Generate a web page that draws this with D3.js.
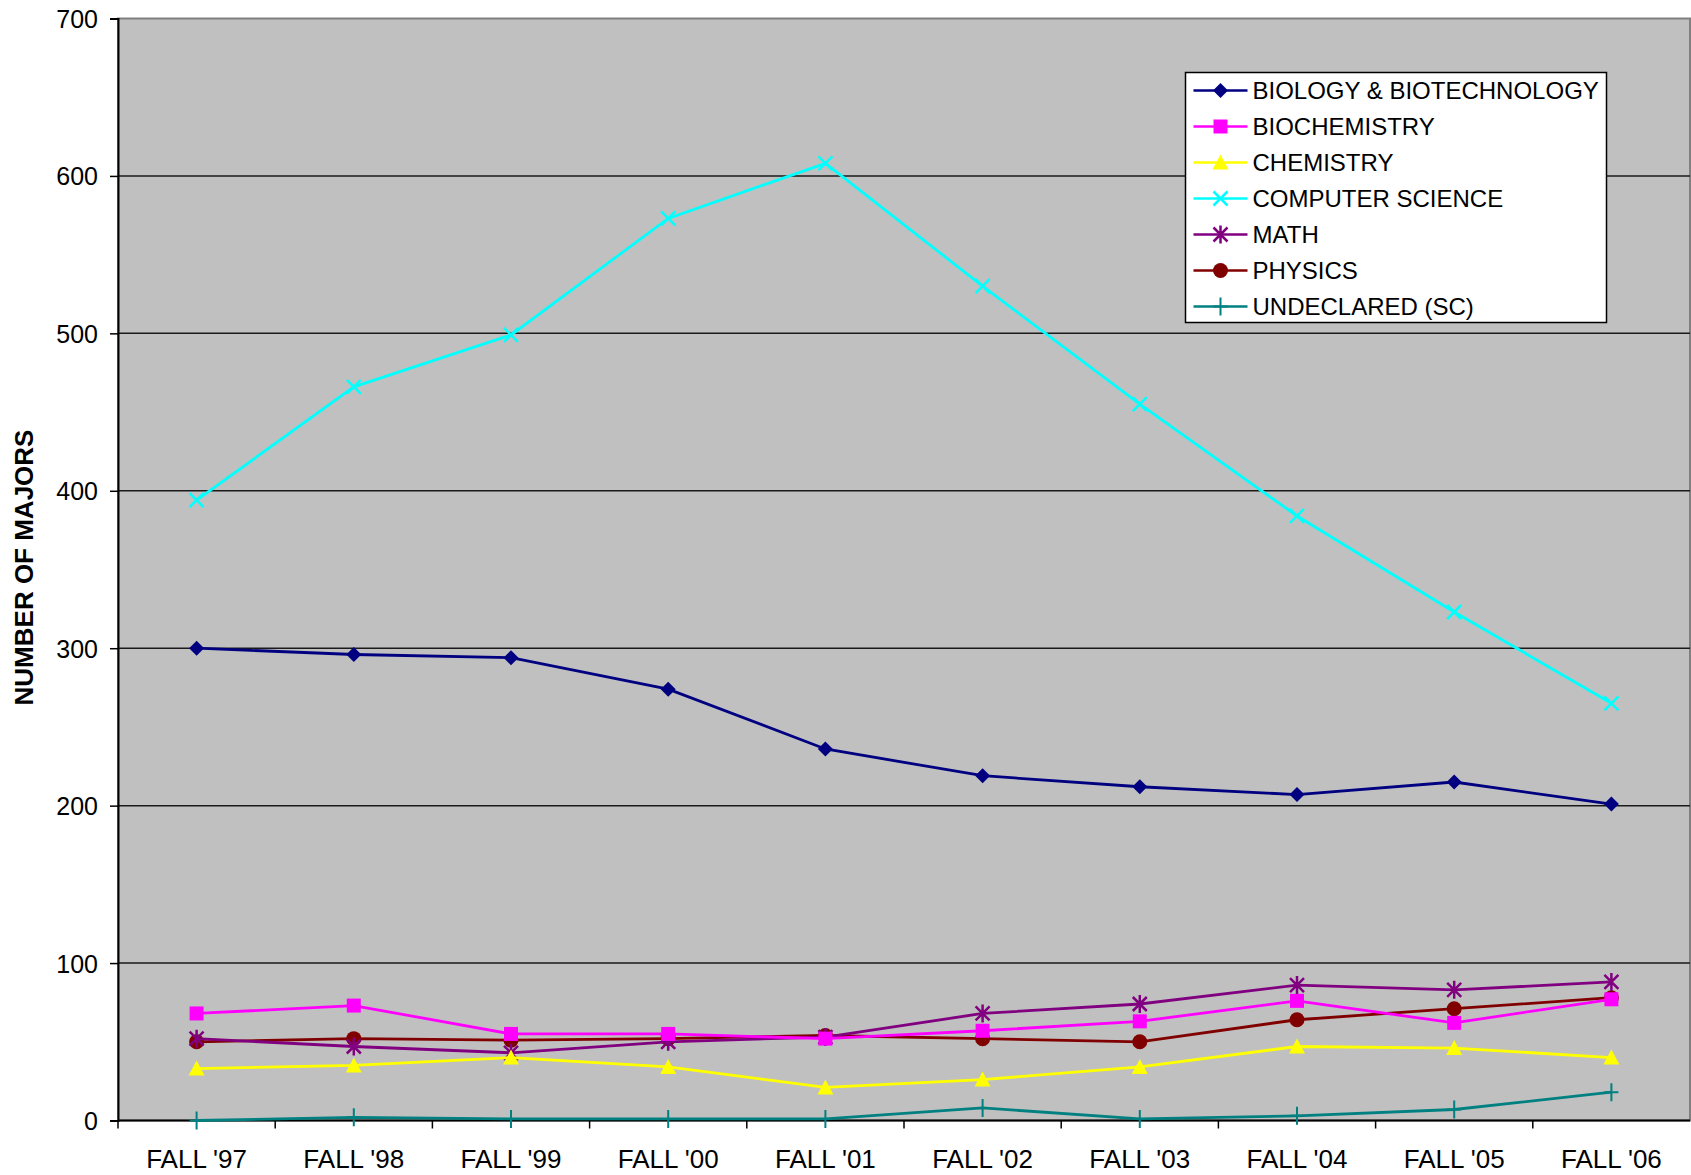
<!DOCTYPE html>
<html>
<head>
<meta charset="utf-8">
<script src="https://cdn.jsdelivr.net/npm/d3@7"></script>
<style>
  body { margin: 0; background: #fff; }
  text { font-family: "Liberation Sans", Arial, sans-serif; fill: #000; }
</style>
</head>
<body>
<svg id="chart" width="1691" height="1175"></svg>
<script>
// ---- data ----
const terms = ["FALL '97", "FALL '98", "FALL '99", "FALL '00", "FALL '01",
               "FALL '02", "FALL '03", "FALL '04", "FALL '05", "FALL '06"];

const biology     = [300, 296, 294, 274, 236, 219, 212, 207, 215, 201];
const biochem     = [68, 73, 55, 55, 52, 57, 63, 76, 62, 77];
const chemistry   = [33, 35, 40, 34, 21, 26, 34, 47, 46, 40];
const compsci     = [394, 466, 499, 573, 608, 530, 455, 384, 323, 265];
const math        = [52, 47, 43, 50, 53, 68, 74, 86, 83, 88];
const physics     = [50, 52, 51, 52, 54, 52, 50, 64, 71, 78];
const undeclared  = [0, 2, 1, 1, 1, 8, 1, 3, 7, 18];

const yTicks = [0, 100, 200, 300, 400, 500, 600, 700];

const series = [
    { name: 'BIOLOGY & BIOTECHNOLOGY', values: biology,    colour: '#000080', marker: 'diamond' },
    { name: 'BIOCHEMISTRY',            values: biochem,    colour: '#ff00ff', marker: 'square' },
    { name: 'CHEMISTRY',               values: chemistry,  colour: '#ffff00', marker: 'triangle' },
    { name: 'COMPUTER SCIENCE',        values: compsci,    colour: '#00ffff', marker: 'x' },
    { name: 'MATH',                    values: math,       colour: '#800080', marker: 'star' },
    { name: 'PHYSICS',                 values: physics,    colour: '#800000', marker: 'circle' },
    { name: 'UNDECLARED (SC)',         values: undeclared, colour: '#008080', marker: 'plus' }
];

//-------------------------------------------------------------------------------

const svg = d3.select('#chart');
const plot = { left: 118, top: 18.5, right: 1690, bottom: 1120.5 };

const x = d3.scaleBand().domain(terms).range([plot.left, plot.right]);
const y = d3.scaleLinear().domain([0, 700]).range([plot.bottom, plot.top]);

// plot background
svg.append('rect')
    .attr('x', plot.left).attr('y', plot.top)
    .attr('width', plot.right - plot.left).attr('height', plot.bottom - plot.top)
    .attr('fill', '#c0c0c0')
    .attr('stroke', '#808080').attr('stroke-width', 2);

// gridlines
svg.append('g')
    .selectAll('line')
    .data(yTicks.filter(t => t > 0 && t < 700))
    .join('line')
    .attr('x1', plot.left).attr('x2', plot.right)
    .attr('y1', y).attr('y2', y)
    .attr('stroke', '#1a1a1a').attr('stroke-width', 1.5);

// y axis
const yAxis = svg.append('g')
    .attr('transform', `translate(${plot.left},0)`)
    .call(d3.axisLeft(y).tickValues(yTicks).tickSize(8).tickPadding(12));
yAxis.select('.domain').attr('stroke', '#000').attr('stroke-width', 2);
yAxis.selectAll('.tick line').attr('stroke', '#000').attr('stroke-width', 1.5);
yAxis.selectAll('.tick text')
    .attr('font-size', 25).attr('font-family', '"Liberation Sans", Arial, sans-serif')
    .attr('dy', '0.36em');

// x axis: ticks sit between categories
const xAxis = svg.append('g')
    .attr('transform', `translate(0,${plot.bottom})`);
xAxis.append('line')
    .attr('x1', plot.left).attr('x2', plot.right)
    .attr('stroke', '#000').attr('stroke-width', 2);
xAxis.selectAll('line.tk')
    .data(terms)
    .join('line')
    .attr('class', 'tk')
    .attr('x1', d => x(d)).attr('x2', d => x(d))
    .attr('y1', 0).attr('y2', 8)
    .attr('stroke', '#000').attr('stroke-width', 1.5);
xAxis.selectAll('text')
    .data(terms)
    .join('text')
    .attr('x', d => x(d) + x.bandwidth() / 2)
    .attr('y', 47)
    .attr('text-anchor', 'middle')
    .attr('font-size', 26)
    .text(d => d);

// y axis title
svg.append('text')
    .attr('transform', `translate(33,${(plot.top + plot.bottom) / 2 - 2}) rotate(-90)`)
    .attr('text-anchor', 'middle')
    .attr('font-size', 26)
    .attr('font-weight', 'bold')
    .text('NUMBER OF MAJORS');

//-------------------------------------------------------------------------------

function DrawMarker(g, type, colour) {
    const s = 7.5;
    switch (type) {
        case 'diamond':
            g.append('path').attr('d', `M0,${-s}L${s},0L0,${s}L${-s},0Z`).attr('fill', colour);
            break;
        case 'square':
            g.append('rect').attr('x', -7).attr('y', -7).attr('width', 14).attr('height', 14).attr('fill', colour);
            break;
        case 'triangle':
            g.append('path').attr('d', `M0,-8L8,7L-8,7Z`).attr('fill', colour);
            break;
        case 'circle':
            g.append('circle').attr('r', 7.5).attr('fill', colour);
            break;
        case 'x':
            g.append('path').attr('d', `M-7,-7L7,7M-7,7L7,-7`).attr('stroke', colour).attr('stroke-width', 2.5);
            break;
        case 'star':
            g.append('path').attr('d', `M-7,-7L7,7M-7,7L7,-7M0,-9L0,9`).attr('stroke', colour).attr('stroke-width', 2.5);
            break;
        case 'plus':
            g.append('path').attr('d', `M-7,0L7,0M0,-9L0,9`).attr('stroke', colour).attr('stroke-width', 2);
            break;
    }
}

const line = d3.line()
    .x((v, i) => x(terms[i]) + x.bandwidth() / 2)
    .y(v => y(v));

const gSeries = svg.append('g');

// draw in reverse so that biology sits on top like the original
series.slice().reverse().forEach(s => {
    const g = gSeries.append('g');
    g.append('path')
        .attr('d', line(s.values))
        .attr('fill', 'none')
        .attr('stroke', s.colour)
        .attr('stroke-width', 2.8);
    s.values.forEach((v, i) => {
        const m = g.append('g')
            .attr('transform', `translate(${x(terms[i]) + x.bandwidth() / 2},${y(v)})`);
        DrawMarker(m, s.marker, s.colour);
    });
});

//-------------------------------------------------------------------------------
// legend

const legend = svg.append('g').attr('transform', 'translate(1185.5,72.5)');
legend.append('rect')
    .attr('width', 421).attr('height', 250)
    .attr('fill', '#fff').attr('stroke', '#000').attr('stroke-width', 1.5);

series.forEach((s, i) => {
    const row = legend.append('g').attr('transform', `translate(0,${18 + i * 36})`);
    row.append('line')
        .attr('x1', 8).attr('x2', 62)
        .attr('stroke', s.colour).attr('stroke-width', 2.5);
    DrawMarker(row.append('g').attr('transform', 'translate(35,0)'), s.marker, s.colour);
    row.append('text')
        .attr('x', 67).attr('y', 0).attr('dy', '0.36em')
        .attr('font-size', 24)
        .text(s.name);
});
</script>
</body>
</html>
